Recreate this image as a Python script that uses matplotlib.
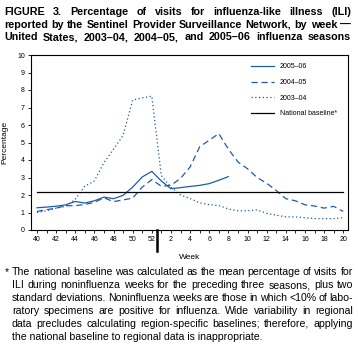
import numpy as np
import matplotlib
matplotlib.use("Agg")
import matplotlib.pyplot as plt
import matplotlib.transforms as mtransforms
from matplotlib.backends.backend_agg import FigureCanvasAgg

plt.rcParams['font.family'] = ['Liberation Sans', 'DejaVu Sans']

# weeks 40..52, then 1..20
weeks = list(range(40, 53)) + list(range(1, 21))
week_labels = [str(w) if w % 2 == 0 else "" for w in weeks]

s2005_06 = [1.27, 1.31, 1.36, 1.44, 1.63, 1.54, 1.67, 1.88, 1.79, 1.98, 2.45, 3.03, 3.35,
            2.8, 2.36, 2.42, 2.49, 2.55, 2.65, 2.84, 3.05]
s2004_05 = [1.06, 1.16, 1.25, 1.39, 1.39, 1.46, 1.58, 1.84, 1.62, 1.72, 1.82, 2.45, 2.88,
            2.5, 2.55, 2.95, 3.6, 4.75, 5.13, 5.51, 4.62, 3.89, 3.5, 3.0, 2.67, 2.26,
            1.79, 1.67, 1.44, 1.37, 1.25, 1.35, 1.06]
s2003_04 = [1.0, 1.1, 1.25, 1.35, 1.75, 2.5, 2.8, 3.85, 4.62, 5.4, 7.42, 7.55, 7.65,
            3.1, 2.45, 2.0, 1.8, 1.55, 1.45, 1.4, 1.2, 1.1, 1.1, 1.15, 0.95, 0.85,
            0.75, 0.75, 0.7, 0.65, 0.65, 0.65, 0.7]
baseline = 2.2

title = [
    "FIGURE 3. Percentage of visits for influenza-like illness (ILI)",
    "reported by the Sentinel Provider Surveillance Network, by week \u2014",
    "United States, 2003\u201304, 2004\u201305, and 2005\u201306 influenza seasons",
]

footnote = [
    "The national baseline was calculated as the mean percentage of visits for",
    "ILI during noninfluenza weeks for the preceding three seasons, plus two",
    "standard deviations. Noninfluenza weeks are those in which <10% of labo-",
    "ratory specimens are positive for influenza. Wide variability in regional",
    "data precludes calculating region-specific baselines; therefore, applying",
    "the national baseline to regional data is inappropriate.",
]

blue = '#1f5ca8'
fs_note = 7.6
fs_title = 7.75

fig = plt.figure(figsize=(3.58, 3.52), dpi=100)
ax = fig.add_axes([31 / 358, 1 - 230 / 352, 317 / 358, 175 / 352])

x = np.arange(len(weeks))
ax.plot(x[:len(s2005_06)], s2005_06, color=blue, lw=0.9, ls='solid', label='2005\u201306')
ax.plot(x[:len(s2004_05)], s2004_05, color=blue, lw=0.9, ls=(0, (5, 3)), label='2004\u201305')
ax.plot(x[:len(s2003_04)], s2003_04, color=blue, lw=0.9, ls=(0, (1, 2)), label='2003\u201304')
ax.plot([x[0], x[-1]], [baseline, baseline], color='black', lw=0.9, label='National baseline*')

ax.set_xlim(-0.62, 32.5)
ax.set_ylim(0, 10)
ax.set_xticks(x)
ax.set_xticklabels(week_labels)
ax.set_yticks(range(0, 11))
ax.tick_params(labelsize=5, length=2.5, width=0.6, pad=2)
for sp in ax.spines.values():
    sp.set_linewidth(0.8)

# year boundary marker
trans = mtransforms.blended_transform_factory(ax.transData, ax.transAxes)
ax.plot([12.5, 12.5], [0, -0.12], color='black', lw=1.8, transform=trans, clip_on=False)

ax.set_ylabel("Percentage", fontsize=6, labelpad=6)
ax.set_xlabel("Week", fontsize=6, labelpad=8)

ax.legend(loc='upper right', fontsize=5, frameon=False, handlelength=3.4,
          labelspacing=1.25, bbox_to_anchor=(0.98, 0.98), borderaxespad=0.3)

renderer = FigureCanvasAgg(fig).get_renderer()


def justified(line, x0, x1, ypx, **kw):
    words = line.split()
    widths = []
    for w in words:
        t = fig.text(0, 0, w, **kw)
        widths.append(t.get_window_extent(renderer).width)
        t.remove()
    gap = (x1 - x0 - sum(widths)) / (len(words) - 1)
    pos = x0
    for w, wd in zip(words, widths):
        fig.text(pos / 358, 1 - ypx / 352, w, va='center', ha='left', **kw)
        pos += wd + gap


for i, line in enumerate(title):
    justified(line, 4, 351, 12 + 12.5 * i, fontsize=fs_title, fontweight='bold')

# footnote
fig.text(5 / 358, 1 - 272 / 352, "*", fontsize=fs_note, va='center', ha='left')
for i, line in enumerate(footnote):
    if i == len(footnote) - 1:
        fig.text(12 / 358, 1 - (272 + 13 * i) / 352, line, fontsize=fs_note,
                 va='center', ha='left')
    else:
        justified(line, 12, 353, 272 + 13 * i, fontsize=fs_note)

fig.savefig("out.png", dpi=100)
